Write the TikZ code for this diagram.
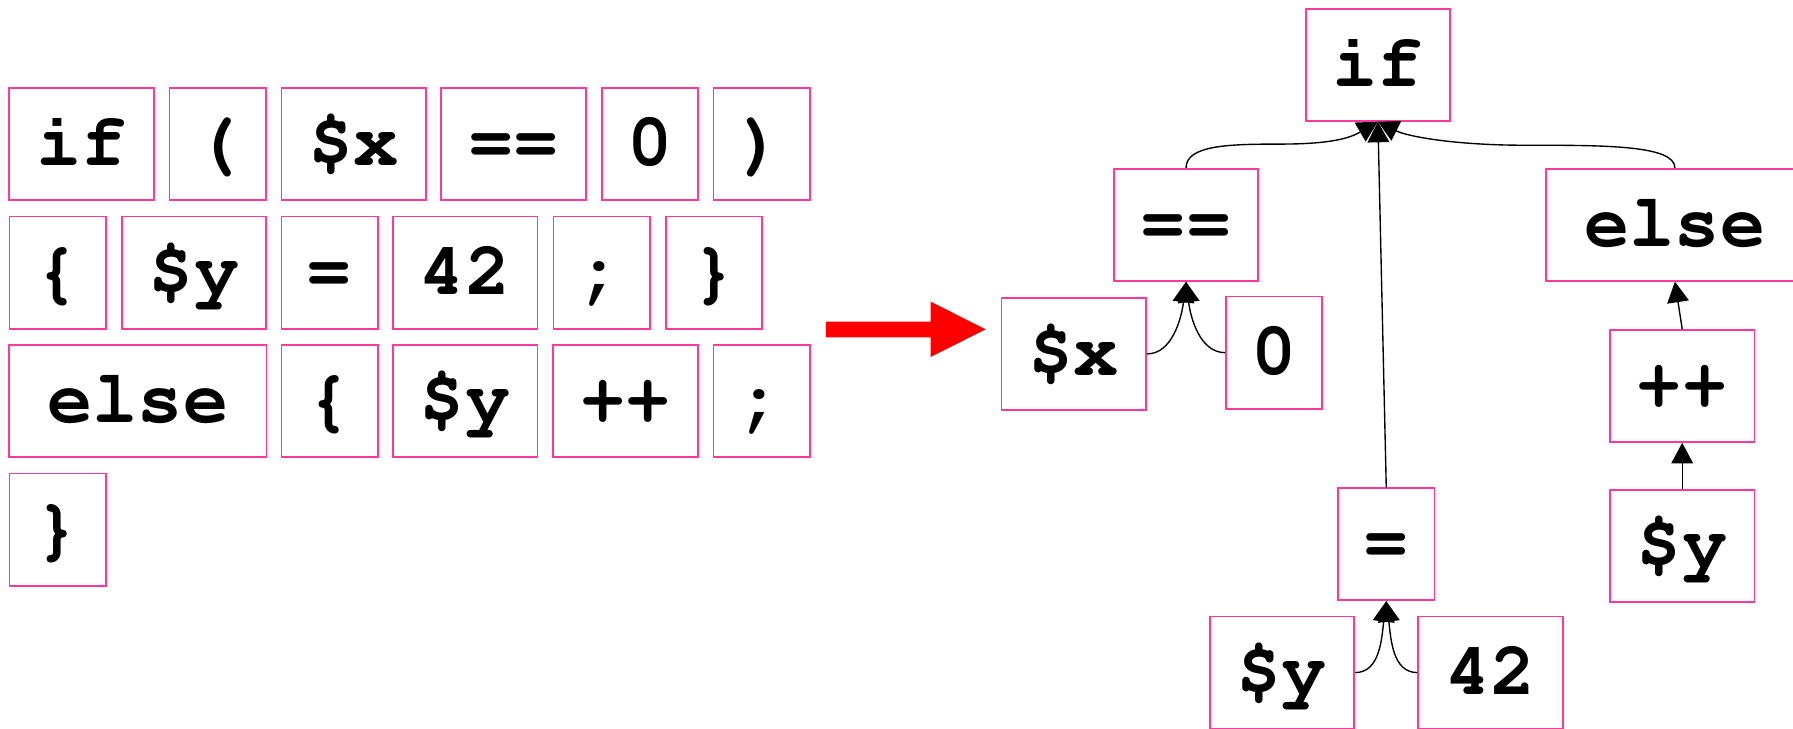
\documentclass[tikz,border=0pt]{standalone}
\usepackage[T1,TU]{fontenc}
\usetikzlibrary{arrows.meta}
\definecolor{tokpink}{RGB}{255,56,160}
\begin{document}
\begin{tikzpicture}[x=0.5pt,y=-0.5pt,
  tok/.style={draw=tokpink, line width=0.75pt, minimum height=49pt, inner sep=0pt,
    text height=24pt, text depth=5pt,
    font=\fontencoding{T1}\fontfamily{pcr}\fontseries{b}\fontsize{33}{33}\selectfont},
  w1/.style={minimum width=42.1pt},
  w2/.style={minimum width=63.2pt},
  w4/.style={minimum width=112.5pt},
  edge/.style={line width=0.6pt, -{Triangle[length=9pt,width=9.5pt]}}]
\useasboundingbox (0,0) rectangle (1568,637);

% token stream
\node[tok,w2] (t1)  at (71.3,126)   {if};
\node[tok,w1] (t2)  at (190.3,126)  {(};
\node[tok,w2] (t3)  at (309.3,126)  {\$x};
\node[tok,w2] (t4)  at (449,126)    {==};
\node[tok,w1] (t5)  at (568.3,126)  {0};
\node[tok,w1] (t6)  at (666,126)    {)};
\node[tok,w1] (t7)  at (50.3,238.4) {\{};
\node[tok,w2] (t8)  at (169.7,238.4){\$y};
\node[tok,w1] (t9)  at (288.2,238.4){=};
\node[tok,w2] (t10) at (406.8,238.4){42};
\node[tok,w1] (t11) at (526.1,238.4){;};
\node[tok,w1] (t12) at (624.5,238.4){\}};
\node[tok,w4] (t13) at (120.5,350.6){else};
\node[tok,w1] (t14) at (288.2,350.6){\{};
\node[tok,w2] (t15) at (406.8,350.6){\$y};
\node[tok,w2] (t16) at (547.1,350.6){++};
\node[tok,w1] (t17) at (666,350.6)  {;};
\node[tok,w1] (t18) at (50.3,463.2) {\}};

% transformation arrow
\fill[red] (722.3,281.3) -- (813.9,281.3) -- (813.9,263.8) -- (862,288)
  -- (813.9,312.2) -- (813.9,295) -- (722.3,295) -- cycle;

% syntax tree
\node[tok,w2] (nif)   at (1205,56.7)    {if};
\node[tok,w2] (neq)   at (1037.2,196.6) {==};
\node[tok,w4] (nelse) at (1464.7,196.6) {else};
\node[tok,w2] (nx)    at (939.1,309.5)  {\$x};
\node[tok,w1] (nzero) at (1114.3,308.4) {0};
\node[tok,w2] (ninc)  at (1471.1,337.5) {++};
\node[tok,w2] (ny2)   at (1471.1,477.5) {\$y};
\node[tok,w1] (nset)  at (1212.3,475.9) {=};
\node[tok,w2] (ny1)   at (1121.1,588.2) {\$y};
\node[tok,w2] (n42)   at (1303.4,588.2) {42};

\draw[edge] (neq.north) .. controls +(0,-20) and +(-45,0) .. (1120,126)
  .. controls +(45,0) and +(-24,14) .. (nif.south);
\draw[edge] (nset.north) -- (nif.south);
\draw[edge] (nelse.north) .. controls +(0,-20) and +(70,0) .. (1333,127)
  .. controls +(-60,0) and +(26,13) .. (nif.south);
\draw[edge] (nx.east) .. controls +(22,0) and +(-4,32) .. (neq.south);
\draw[edge] (nzero.west) .. controls +(-22,0) and +(4,32) .. (neq.south);
\draw[edge] (ny1.east) .. controls +(22,0) and +(-4,32) .. (nset.south);
\draw[edge] (n42.west) .. controls +(-22,0) and +(4,32) .. (nset.south);
\draw[edge] (ninc.north) -- (nelse.south);
\draw[edge] (ny2.north) -- (ninc.south);
\end{tikzpicture}
\end{document}
